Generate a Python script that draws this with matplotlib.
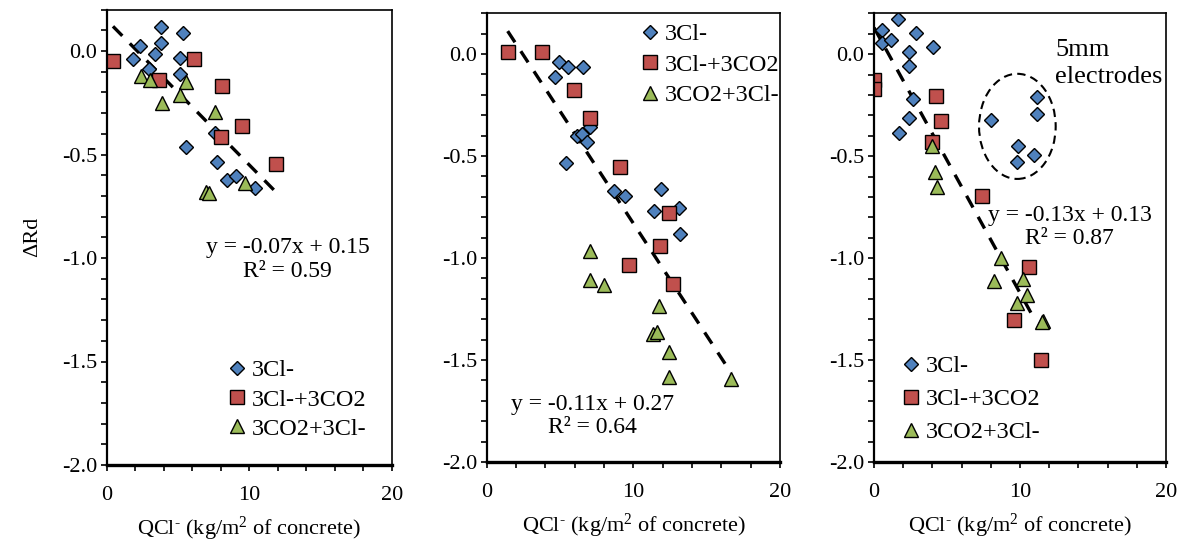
import numpy as np
import matplotlib
matplotlib.use('Agg')
import matplotlib.pyplot as plt
from matplotlib.patches import Ellipse
from matplotlib.ticker import MultipleLocator, FormatStrFormatter

plt.rcParams['font.family'] = ['Liberation Serif', 'DejaVu Serif']
plt.rcParams['mathtext.fontset'] = 'custom'
plt.rcParams['mathtext.rm'] = 'Liberation Serif'
plt.rcParams['mathtext.it'] = 'Liberation Serif:italic'
plt.rcParams['axes.unicode_minus'] = False

# panel 1
p1_cl_x = [3.79, 5.36, 2.36, 3.79, 1.85, 3.37, 5.12, 2.95, 5.12, 5.54, 7.58, 7.74, 8.47, 9.1, 10.39]
p1_cl_y = [0.114, 0.085, 0.024, 0.037, -0.04, -0.016, -0.032, -0.087, -0.111, -0.462, -0.398, -0.538, -0.623, -0.602, -0.663]
p1_clco_x = [0.44, 6.1, 3.67, 8.12, 9.52, 8.05, 11.9]
p1_clco_y = [-0.047, -0.04, -0.14, -0.169, -0.362, -0.414, -0.547]
p1_cocl_x = [2.43, 3.02, 5.54, 5.17, 3.88, 7.58, 9.68, 6.95, 7.19]
p1_cocl_y = [-0.121, -0.14, -0.148, -0.213, -0.25, -0.293, -0.636, -0.683, -0.688]

# panel 2
p2_cl_x = [4.94, 5.53, 6.56, 4.67, 6.15, 6.49, 7.06, 6.83, 5.42, 8.65, 9.4, 11.88, 11.42, 13.13, 13.2]
p2_cl_y = [-0.038, -0.062, -0.062, -0.11, -0.401, -0.39, -0.357, -0.431, -0.532, -0.672, -0.696, -0.66, -0.77, -0.753, -0.881]
p2_clco_x = [1.43, 3.8, 5.92, 7.06, 9.06, 12.4, 11.83, 9.67, 12.7]
p2_clco_y = [0.008, 0.008, -0.177, -0.311, -0.552, -0.778, -0.942, -1.035, -1.127]
p2_cocl_x = [7.06, 7.06, 8.03, 11.77, 11.33, 11.61, 12.4, 12.4, 16.66]
p2_cocl_y = [-0.966, -1.11, -1.134, -1.233, -1.373, -1.363, -1.463, -1.581, -1.592]

# panel 3
p3_cl_x = [1.67, 0.53, 0.53, 1.16, 2.88, 2.42, 4.02, 2.42, 2.65, 2.42, 1.73, 8.01, 11.14, 11.14, 9.88, 10.96, 9.77]
p3_cl_y = [0.172, 0.12, 0.054, 0.067, 0.103, 0.01, 0.035, -0.06, -0.22, -0.313, -0.387, -0.325, -0.212, -0.292, -0.452, -0.493, -0.531]
p3_clco_x = [0.0, 0.0, 4.25, 4.61, 3.97, 7.39, 10.64, 9.61, 11.44]
p3_clco_y = [-0.125, -0.171, -0.207, -0.326, -0.433, -0.697, -1.045, -1.302, -1.498]
p3_cocl_x = [3.95, 4.18, 4.34, 8.7, 8.24, 10.23, 10.46, 9.77, 11.6, 11.49]
p3_cocl_y = [-0.449, -0.58, -0.653, -1.0, -1.111, -1.102, -1.179, -1.22, -1.31, -1.315]

labels = ['3Cl-', '3Cl-+3CO2', '3CO2+3Cl-']
slopes = [-0.07, -0.11, -0.13]
icpts = [0.15, 0.27, 0.13]
r2 = [0.59, 0.64, 0.87]
fit_ranges = [(0.44, 11.9), (1.43, 16.66), (0.0, 10.9)]

panels = [
    (p1_cl_x, p1_cl_y, p1_clco_x, p1_clco_y, p1_cocl_x, p1_cocl_y),
    (p2_cl_x, p2_cl_y, p2_clco_x, p2_clco_y, p2_cocl_x, p2_cocl_y),
    (p3_cl_x, p3_cl_y, p3_clco_x, p3_clco_y, p3_cocl_x, p3_cocl_y),
]

W, H = 1187, 543
boxes = [(106.7, 391.7, 9.6, 465), (486.7, 780, 13.3, 462), (874, 1166, 13.3, 462.3)]
eq_pos = [(0.635, 0.50), (0.36, 0.152), (0.67, 0.574)]
leg_pos = [(0.42, 0.232), (0.52, 0.978), (0.09, 0.238)]
leg_space = [0.3, 0.35, 0.45]

fs = 16
fig = plt.figure(figsize=(W / 100, H / 100), dpi=100)

for k in range(3):
    l, r, t, b = boxes[k]
    ax = fig.add_axes([l / W, 1 - b / H, (r - l) / W, (b - t) / H])
    cx, cy, sx, sy, tx, ty = panels[k]
    ax.plot(cx, cy, 'D', ms=7, mfc='#4F81BD', mec='black', mew=1.0, ls='none', label=labels[0])
    ax.plot(sx, sy, 's', ms=9.5, mfc='#C0504D', mec='black', mew=1.0, ls='none', label=labels[1])
    ax.plot(tx, ty, '^', ms=10, mfc='#9BBB59', mec='black', mew=1.0, ls='none', label=labels[2])

    xf = np.array(fit_ranges[k])
    ax.plot(xf, slopes[k] * xf + icpts[k], color='black', lw=2.4, ls=(0, (4, 3.2)), zorder=1)

    ax.text(eq_pos[k][0], eq_pos[k][1],
            'y = %.2fx + %.2f\nR² = %.2f' % (slopes[k], icpts[k], r2[k]),
            transform=ax.transAxes, ha='center', va='top', fontsize=17,
            multialignment='center', linespacing=1.15)

    ax.legend(loc='upper left', bbox_to_anchor=leg_pos[k], frameon=False, fontsize=17.5,
              handlelength=0.9, handletextpad=0.15, borderpad=0, borderaxespad=0,
              labelspacing=leg_space[k], numpoints=1)

    ax.set_xlim(0, 20)
    ax.set_ylim(-2.0, 0.2)
    ax.xaxis.set_major_locator(MultipleLocator(10))
    ax.xaxis.set_minor_locator(MultipleLocator(2))
    ax.yaxis.set_major_locator(MultipleLocator(0.5))
    ax.yaxis.set_minor_locator(MultipleLocator(0.1))
    ax.yaxis.set_major_formatter(FormatStrFormatter('%.1f'))
    ax.tick_params(which='both', direction='out', length=4, width=1.2, labelsize=fs)
    ax.tick_params(axis='x', which='both', pad=11)
    ax.tick_params(axis='y', which='both', pad=3)
    ax.spines['left'].set_linewidth(1.6)
    ax.spines['bottom'].set_linewidth(2.4)
    ax.spines['top'].set_linewidth(1.2)
    ax.spines['right'].set_linewidth(1.2)
    ax.set_xlabel(r'QCl$^{\text{-}}$ (kg/m$^{\text{2}}$ of concrete)', fontsize=fs, labelpad=7)
    if k == 0:
        ax.set_ylabel('ΔRd', fontsize=fs, labelpad=14)
    if k == 2:
        ax.add_patch(Ellipse((9.82, -0.354), 5.25, 0.515, fill=False, ec='black',
                             lw=1.5, ls=(0, (4, 2.5))))
        ax.text(12.4, -0.045, '5mm\nelectrodes', fontsize=19, ha='left', va='center',
                linespacing=1.3)

fig.savefig('out.png', dpi=100)
